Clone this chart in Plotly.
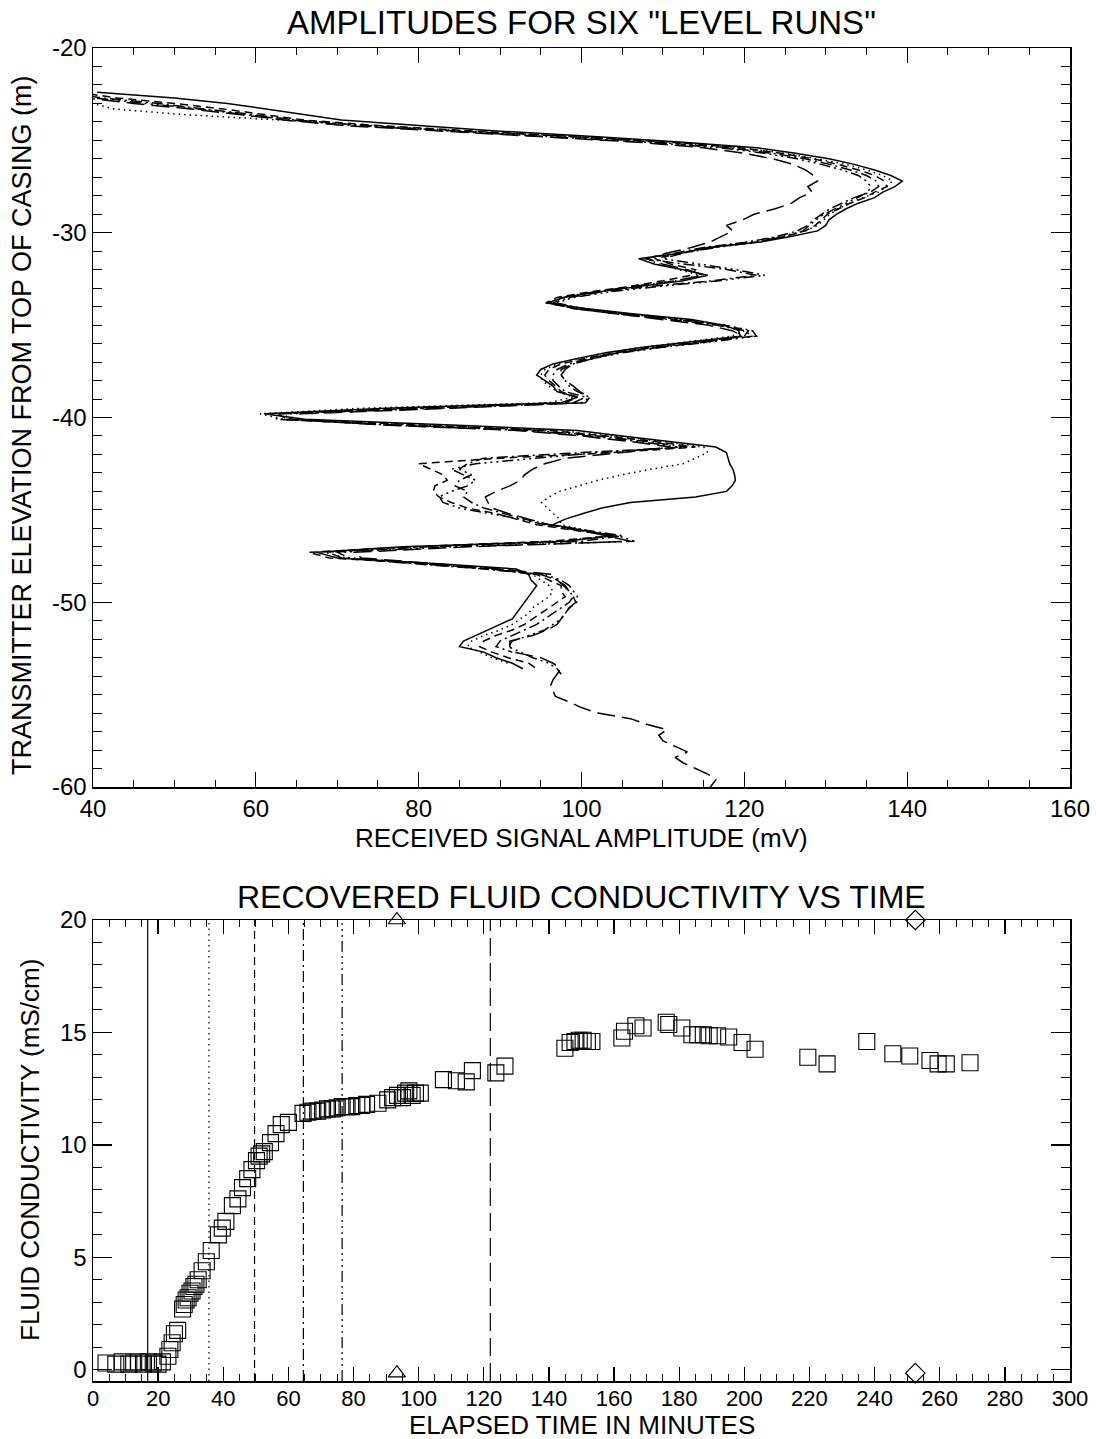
import plotly.graph_objects as go

# ---------------- TOP PANEL DATA : six "level runs" ----------------
depth_m = [-22.4, -22.7, -23.0, -23.3, -23.6, -23.9, -24.2, -24.5, -24.8, -25.1,
           -25.4, -25.7, -26.0, -26.3, -26.6, -26.9, -27.2, -27.5, -27.8, -28.1,
           -28.4, -28.7, -29.0, -29.3, -29.6, -29.9, -30.2, -30.5, -30.8, -31.1,
           -31.4, -31.7, -32.0, -32.3, -32.6, -32.9, -33.2, -33.5, -33.8, -34.1,
           -34.4, -34.7, -35.0, -35.3, -35.6, -35.9, -36.2, -36.5, -36.8, -37.1,
           -37.4, -37.7, -38.0, -38.3, -38.6, -38.9, -39.2, -39.5, -39.8, -40.1,
           -40.4, -40.7, -41.0, -41.3, -41.6, -41.9, -42.2, -42.5, -42.8, -43.1,
           -43.4, -43.7, -44.0, -44.3, -44.6, -44.9, -45.2, -45.5, -45.8, -46.1,
           -46.4, -46.7, -47.0, -47.3, -47.6, -47.9, -48.2, -48.5, -48.8, -49.1,
           -49.4, -49.7, -50.0, -50.3, -50.6, -50.9, -51.2, -51.5, -51.8, -52.1,
           -52.4, -52.7, -53.0, -53.3, -53.6, -53.9]

run1_solid = [40.5, 50, 56.5, 61, 65.5, 70.5, 80, 90, 102, 112.5,
              121.5, 126.3, 130.4, 133.5, 136, 138, 139.4, 138.5, 137, 136,
              134, 132.5, 131.3, 130.4, 130, 129, 125.7, 122, 115.5, 112.3,
              107, 109, 112.5, 115.5, 112.5, 107, 102, 97.8, 95.8, 100.5,
              106.5, 113.5, 117.5, 119.3, 119.5, 113.5, 107.5, 103, 99.5, 96.5,
              95, 94.5, 95.5, 96.5, 97, 99.5, 97.5, 76, 61, 66,
              84, 99.5, 105, 111, 116.5, 117.8, 118, 118.2, 118.6, 118.8,
              118.9, 118.5, 117.8, 114, 106, 102.5, 100.2, 98, 96.5, 100,
              104, 98, 78, 67.5, 70, 82, 92, 93.5, 93.8, 94.5,
              94, 93.5, 93, 92.5, 92, 91.5, 90, 88.5, 87, 85.5,
              85, 88, 89.5, 91.5, 92.8, None]

run2_dotted = [36, 38, 40, 42.5, 51, 63, 74, 86, 100, 111,
               119.5, 125, 129, 132.5, 135, 137, 138.2, 137.5, 136.5, 134.5,
               133, 131.5, 130.5, 129.8, 129, 127.5, 124.5, 120.5, 115.5, 112,
               108, 109.5, 112, 114.5, 111.5, 106.5, 101.5, 97.5, 96.2, 100,
               106, 112.5, 117, 120, 118.5, 113, 107.5, 103, 100, 97,
               95.5, 95, 95.2, 96, 97, 99, 96, 73, 60.5, 63.5,
               80, 97, 104, 110, 115, 115.5, 114, 112.5, 108.5, 105,
               102, 99.5, 97.3, 96, 95.1, 95.8, 96.5, 97.3, 97.5, 100.5,
               103.5, 97, 80, 68.5, 71, 81, 90, 94, 95, 96,
               96.5, 96, 95, 94, 93.5, 92.5, 91.5, 90, 88, 86.5,
               86, 87.5, 89, 91, None, None]

run3_dashed = [38, 43, 50, 56, 61, 66, 75, 87, 100.5, 111,
               119.5, 124.5, 128.5, 131.5, 134, 136, 137.2, 137.5, 136, 134.8,
               133, 131.5, 130.2, 129.5, 128.7, 127.5, 125, 121.5, 116, 112.5,
               109, 111, 114, 113.5, 110, 106, 101, 97, 95.6, 99.5,
               105.5, 112, 117.5, 120.5, 120, 114.5, 108.5, 104, 100.5, 97.5,
               96, 95.5, 96, 96.8, 97.5, 99.5, 98, 78, 62.5, 64,
               79, 96, 103, 109, 114, 104, 90, 80, 81.5, 83,
               83.5, 82, 81.8, 82.5, 84, 86, 89.5, 92, 94.5, 99,
               104, 96, 79, 66.5, 69, 80, 89, 94.5, 96, 97.5,
               97.5, 98, 97, 96, 95, 94, 93, 91.5, 89.5, 88,
               87.5, 89, 91, 93.5, 94.5, None]

run4_dashdot = [37, 41, 48, 54, 59.5, 65, 73.5, 85, 99, 109.5,
                118, 123.5, 127.5, 130.5, 133, 135, 136.2, 136.5, 135.5, 133.5,
                132, 130.5, 129.5, 128.5, 127.8, 126.5, 124, 120.5, 115, 111.5,
                107.5, 113, 118, 121.5, 116, 108.5, 102.5, 98.5, 96.5, 99,
                104.5, 111, 116.5, 120, 121, 115, 109, 104, 101, 98.5,
                97, 96.5, 96.5, 97.2, 98, 100.5, 99, 80, 63, 62.5,
                77, 94.5, 102, 108, 113, 100, 88, 86, 85, 86.5,
                85, 84.5, 86, 85.5, 86.5, 88, 90.5, 93, 96, 100.5,
                105, 100, 81, 69, 70.5, 79, 88, 95, 97, 98,
                98.5, 99, 98.5, 97.5, 96.5, 95.5, 94.5, 93, 91.5, 90,
                89.5, 91.5, None, None, None, None]

run5_dashdotdot = [36.5, 40, 46.5, 53, 58.5, 64.5, 72, 84, 97.5, 108,
                   117, 122.5, 126.5, 129.5, 132, 134, 135, 135.5, 135.2, 133.8,
                   132.5, 131, 129.8, 128.8, 128, 127.2, 125, 121.5, 116.5, 112.5,
                   110, 114.5, 119, 122.5, 117, 109.5, 103.5, 99, 97, 100,
                   105.5, 112.5, 117.5, 121, 121.5, 116, 110, 105, 101.5, 99,
                   97.5, 97.5, 98, 98.5, 99.5, 101, 100, 82, 64, 63.5,
                   76, 93, 101, 107, 112, 102, 94, 87, 84, 85.5,
                   87, 86, 84, 82.5, 83, 85, 89, 92.5, 95.5, 99.5,
                   104.5, 106.5, 84, 70, 71.5, 80, 88.5, 95.5, 97.5, 98.5,
                   99, 99.5, 99.4, 98.5, 98, 97.5, 96.5, 95.5, 93.5, 91.5,
                   91, 92.5, 94, 96, 97, 97.5]

run6_longdash = [35, 39, 45, 52, 58, 63.5, 71, 83, 96, 107,
                 115, 120, 123.5, 126, 127.5, 128.5, 129, 127.8, 128.3, 126.8,
                 125.8, 123.8, 121.2, 119.8, 117.8, 118.6, 117.2, 115.8, 113.5, 110.5,
                 108, 110, 113, 115, 111.5, 106.5, 101.5, 97.8, 96, 99,
                 104.5, 110.5, 115.5, 118.5, 119.8, 115.5, 109.5, 104.5, 101.5, 99,
                 98, 97.5, 98, 99, 99.8, 101, 100.5, 84, 65.5, 64,
                 75.5, 92, 100, 106, 111, 105, 98, 95.5, 94, 93,
                 92.5, 91.2, 89.5, 88.2, 88.5, 89, 91, 93.5, 96, 100,
                 103, 106, 86, 72, 73, 82, 90, 96.5, 97, 97.8,
                 98.5, 99, 99.3, 98.5, 98, 97.5, 97, 95.8, 94, 91.2,
                 91.2, 91.6, 95, 96.5, 97.4, 97]

# deeper continuation recorded only by the last run
run6_tail_depth = [-54.2, -54.5, -54.8, -55.1, -55.4, -55.7, -56.0, -56.3, -56.6, -56.9,
                   -57.2, -57.5, -57.8, -58.1, -58.4, -58.7, -59.0, -59.3, -59.6, -59.9, -60.2]
run6_tail_amp = [96.5, 96.2, 96.5, 96.8, 98.5, 100, 102, 106, 108, 110.5,
                 109.5, 110, 111.5, 113, 111.5, 112.5, 114, 115.5, 116.5, 116, 115.5]

amp_tick_vals = [40, 60, 80, 100, 120, 140, 160]
amp_tick_text = ["40", "60", "80", "100", "120", "140", "160"]
depth_tick_vals = [-60, -50, -40, -30, -20]
depth_tick_text = ["-60", "-50", "-40", "-30", "-20"]

# ---------------- BOTTOM PANEL DATA : conductivity vs time ----------------
time_min = [4, 7, 9, 11, 12.5, 14, 15.5, 17, 18.5, 20, 21.3,
            23.0, 23.6, 24.3, 25.0, 26.0,
            27.5, 28.0, 28.6, 29.2, 29.8, 30.4, 31.0, 31.6, 32.3, 33.5, 34.8,
            36.3, 38.5, 39.7, 40.8, 42.8, 44.5, 45.9, 47.5, 48.8, 50.2, 51.0,
            51.8, 52.6, 54.5, 56.2, 57.8, 60.0, 64.5, 66.0, 67.5, 69.0, 70.5,
            72.0, 73.5, 75.0, 76.5, 78.0, 79.5, 81.0, 82.5, 84.0, 87.5, 90.5,
            92.0, 93.5, 95.0, 96.0, 97.0, 98.0, 99.0, 100.5,
            107.6, 111.6, 114.6, 116.5, 123.7, 126.5,
            144.9, 146.5, 148.0, 149.3, 150.5, 151.8, 153.2, 162.4, 163.2, 166.7,
            168.9, 176.0, 176.8, 180.8, 183.9, 185.7, 187.4, 189.2, 191.8, 195.2,
            199.3, 203.3, 219.5, 225.4, 237.6, 245.6, 250.8, 257.0, 259.5, 262.0,
            269.3]
conductivity = [0.3, 0.25, 0.35, 0.25, 0.3, 0.35, 0.25, 0.35, 0.3, 0.25, 0.35,
                0.6, 0.9, 1.2, 1.6, 1.75,
                2.7, 2.9, 3.1, 3.2, 3.4, 3.5, 3.7, 3.8, 4.0, 4.4, 4.8,
                5.3, 6.0, 6.3, 6.6, 7.3, 7.6, 8.1, 8.5, 8.9, 9.3, 9.5,
                9.6, 9.7, 10.1, 10.5, 10.9, 11.0, 11.4, 11.45, 11.5, 11.5, 11.55,
                11.6, 11.6, 11.65, 11.7, 11.7, 11.7, 11.75, 11.75, 11.8, 11.85, 12.0,
                12.1, 12.2, 12.1, 12.3, 12.4, 12.2, 12.3, 12.3,
                12.9, 12.85, 12.8, 13.3, 13.2, 13.5,
                14.3, 14.55, 14.6, 14.65, 14.65, 14.6, 14.6, 14.75, 15.05, 15.3,
                15.2, 15.45, 15.35, 15.2, 14.9, 14.9, 14.9, 14.85, 14.85, 14.8,
                14.55, 14.25, 13.9, 13.6, 14.6, 14.05, 13.95, 13.75, 13.6, 13.6,
                13.65]

time_tick_vals = list(range(0, 301, 20))
time_tick_text = [str(v) for v in time_tick_vals]
cond_tick_vals = [0, 5, 10, 15, 20]
cond_tick_text = ["0", "5", "10", "15", "20"]

# start times of the six level runs (vertical lines, same line styles as top panel)
run_start_times = [16.8, 35.6, 49.6, 64.6, 76.5, 122.0]
# event markers drawn on the top and bottom edges
event_times = [93.3, 252.5]
event_symbols = ["triangle-up-open", "diamond-open"]
event_top_level = 20.0
event_bottom_level = -0.15

line_styles = ["solid", "1.5px,4px", "8px,5px", "11px,4px,2px,4px",
               "11px,4px,2px,4px,2px,4px,2px,4px", "18px,7px"]
run_names = ["Run 1", "Run 2", "Run 3", "Run 4", "Run 5", "Run 6"]

FONT = "Liberation Sans, Arial, Helvetica, sans-serif"
W, H = 1096, 1439

def px(X):
    return X / W

def py(Y):
    return 1 - Y / H

fig = go.Figure()

runs = [run1_solid, run2_dotted, run3_dashed, run4_dashdot, run5_dashdotdot, run6_longdash]
for i, amp in enumerate(runs):
    ys = list(depth_m)
    xs = list(amp)
    if i == 5:
        ys = ys + run6_tail_depth
        xs = xs + run6_tail_amp
    fig.add_trace(go.Scatter(x=xs, y=ys, mode="lines", name=run_names[i],
                             line=dict(color="black", width=1.5, dash=line_styles[i]),
                             connectgaps=False, xaxis="x", yaxis="y",
                             showlegend=False))

fig.add_trace(go.Scatter(x=time_min, y=conductivity, mode="markers",
                         marker=dict(symbol="square-open", size=16, color="black",
                                     line=dict(width=1.1, color="black")),
                         xaxis="x2", yaxis="y2", showlegend=False, cliponaxis=False))

for lvl in (event_top_level, event_bottom_level):
    fig.add_trace(go.Scatter(x=event_times, y=[lvl] * len(event_times),
                             mode="markers",
                             marker=dict(symbol=event_symbols, size=15, color="black",
                                         line=dict(width=1.2, color="black")),
                             xaxis="x2", yaxis="y2", showlegend=False, cliponaxis=False))

for t, ds in zip(run_start_times, line_styles):
    fig.add_shape(type="line", xref="x2", yref="y2 domain", x0=t, x1=t, y0=0, y1=1,
                  line=dict(color="black", width=1.2, dash=ds))

xd = [px(93), px(1070)]
top_dom = [py(787), py(48)]
bot_dom = [py(1381), py(920)]

def axis_style(rng, tv, tt, ticklen, mtick0, mdtick, mlen, dom, anchor, standoff, fsize):
    return dict(range=rng, domain=dom, anchor=anchor, tickmode="array",
                tickvals=tv, ticktext=tt,
                ticks="inside", ticklen=ticklen, tickwidth=1.3, tickcolor="black",
                minor=dict(ticks="inside", tickmode="linear", tick0=mtick0, dtick=mdtick,
                           ticklen=mlen, tickwidth=1.0, tickcolor="black", showgrid=False),
                showline=True, linewidth=1.5, linecolor="black", mirror="allticks",
                showgrid=False, zeroline=False, automargin=False,
                ticklabelstandoff=standoff,
                tickfont=dict(family=FONT, size=fsize, color="black"))

fig.update_layout(
    template="none",
    width=W, height=H, margin=dict(l=0, r=0, t=0, b=0, pad=0), autosize=False,
    paper_bgcolor="white", plot_bgcolor="white",
    xaxis=axis_style([40, 160], amp_tick_vals, amp_tick_text, 15, 40, 5, 7, xd, "y", 0, 24),
    yaxis=axis_style([-60, -20], depth_tick_vals, depth_tick_text, 19, -60, 1, 9, top_dom, "x", 0, 24),
    xaxis2=axis_style([0, 300], time_tick_vals, time_tick_text, 14, 0, 5, 7, xd, "y2", -3, 22),
    yaxis2=axis_style([-0.5, 20], cond_tick_vals, cond_tick_text, 19, 0, 1, 9, bot_dom, "x2", 0, 24),
)

def ann(text, X, Y, size, angle=0):
    fig.add_annotation(text=text, xref="paper", yref="paper", x=px(X), y=py(Y),
                       xanchor="center", yanchor="middle", showarrow=False,
                       textangle=angle, font=dict(family=FONT, size=size, color="black"))

CX = (93 + 1070) / 2
ann('AMPLITUDES FOR SIX "LEVEL RUNS"', CX, 22, 33)
ann("RECEIVED SIGNAL AMPLITUDE (mV)", CX, 838, 26)
ann("TRANSMITTER ELEVATION FROM TOP OF CASING (m)", 22, 425, 27, -90)
ann("RECOVERED FLUID CONDUCTIVITY VS TIME", CX, 897, 32)
ann("ELAPSED TIME IN MINUTES", CX, 1425, 26)
ann("FLUID CONDUCTIVITY (mS/cm)", 30, 1150, 26, -90)

fig.write_html("out.html",
               config={"displayModeBar": False, "staticPlot": True},
               post_script="document.body.style.margin='0px';"
                           "document.body.style.overflow='hidden';")
